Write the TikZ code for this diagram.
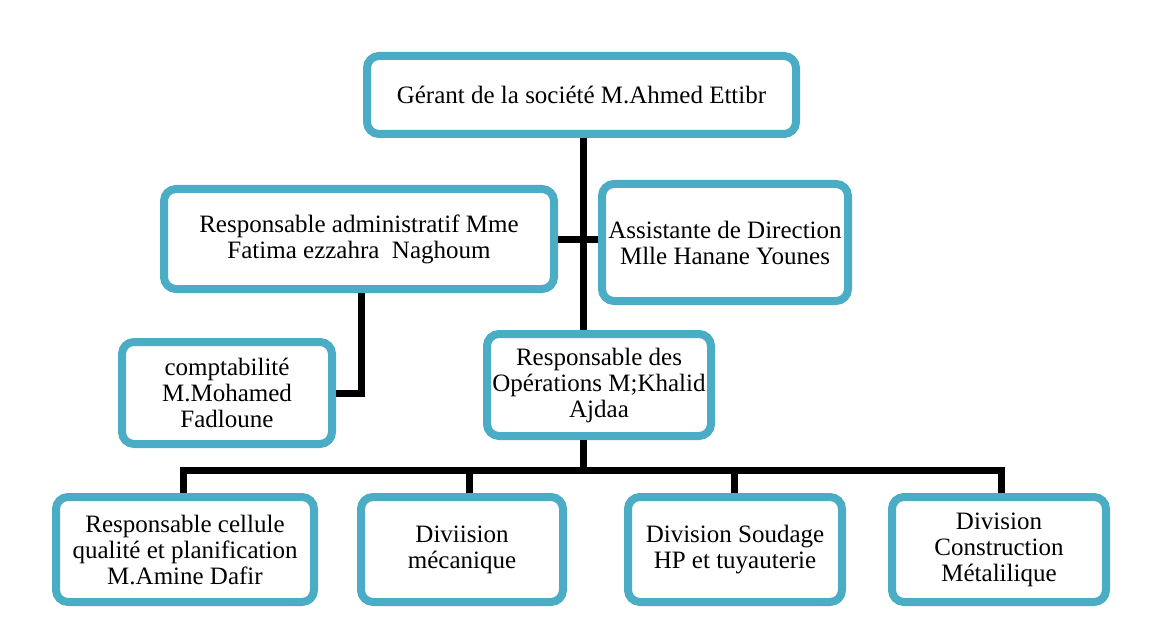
\documentclass[tikz,border=0pt]{standalone}
\usepackage{fontspec}
\setmainfont{Liberation Serif}
\definecolor{boxblue}{HTML}{4BACC6}
\begin{document}
\begin{tikzpicture}[x=1pt,y=-1pt,
  orgbox/.style={draw=boxblue, line width=8pt, rounded corners=12pt, fill=white,
    inner sep=0pt, align=center, font=\fontsize{25}{26}\selectfont},
  link/.style={draw=black, line width=7pt, line join=miter}]
\useasboundingbox[fill=white] (0,0) rectangle (1166,636);
\node[orgbox, minimum width=429pt, minimum height=78pt] (top) at (581.5,95) {G\'erant de la soci\'et\'e M.Ahmed Ettibr};
\node[orgbox, minimum width=390pt, minimum height=100pt] (admin) at (359,239) {Responsable administratif Mme\\Fatima ezzahra\ \ Naghoum};
\node[orgbox, minimum width=246pt, minimum height=117pt] (assist) at (725,242.5) {Assistante de Direction\\Mlle Hanane Younes};
\node[orgbox, minimum width=210pt, minimum height=102pt] (compta) at (227,393) {comptabilit\'e\\M.Mohamed\\Fadloune};
\node[orgbox, minimum width=224pt, minimum height=102pt] (ops) at (599,385) {Responsable des\\Op\'erations M;Khalid\\Ajdaa};
\node[orgbox, minimum width=258pt, minimum height=105pt] (b1) at (185,549.5) {Responsable cellule\\qualit\'e et planification\\M.Amine Dafir};
\node[orgbox, minimum width=202pt, minimum height=105pt] (b2) at (462,549.5) {Diviision\\m\'ecanique};
\node[orgbox, minimum width=214pt, minimum height=105pt] (b3) at (735,549.5) {Division Soudage\\HP et tuyauterie};
\node[orgbox, minimum width=214pt, minimum height=105pt] (b4) at (999,549.5) {Division\\Construction\\M\'etalilique};
\coordinate (trunk) at (583,0);
\coordinate (elbow) at (361,393);
\coordinate (bar) at (0,470);
\begin{scope}[on background layer/.try]
\end{scope}
\draw[link] (top.south -| trunk) -- (ops.north -| trunk);
\draw[link] (admin.east |- 0,240) -- (assist.west |- 0,240);
\draw[link] (admin.south -| elbow) -- (elbow) -- (compta.east);
\draw[link] (ops.south -| trunk) -- (bar -| trunk);
\draw[link] (b1.north -| 183,0) -- (bar -| 183,0) -- (bar -| 1001,0) -- (b4.north -| 1001,0);
\draw[link] (bar -| 469,0) -- (b2.north -| 469,0);
\draw[link] (bar -| 734,0) -- (b3.north -| 734,0);
\end{tikzpicture}
\end{document}
